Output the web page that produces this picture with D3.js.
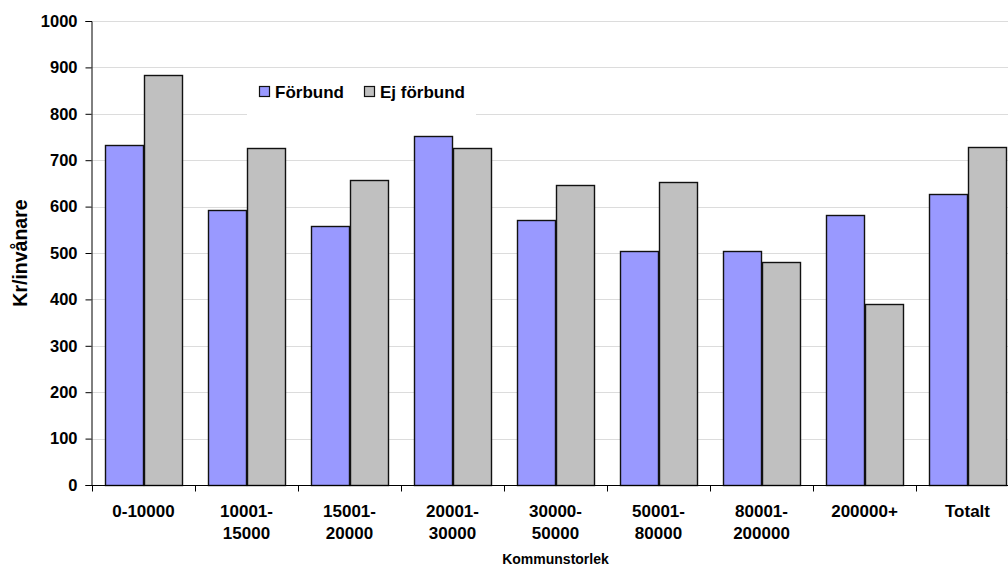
<!DOCTYPE html>
<html><head><meta charset="utf-8">
<script src="https://cdn.jsdelivr.net/npm/d3@7"></script>
<style>body{margin:0;background:#fff;}svg{display:block;font-family:"Liberation Sans",Arial,sans-serif;}</style>
</head><body>
<svg id="c" width="1008" height="568"></svg>
<script>
const categories = [["0-10000"],["10001-","15000"],["15001-","20000"],["20001-","30000"],["30000-","50000"],["50001-","80000"],["80001-","200000"],["200000+"],["Totalt"]];
const seriesNames = ["Förbund","Ej förbund"];
const forbund = [733, 593, 558, 752, 571, 504, 505, 581, 627];
const ejForbund = [883, 726, 658, 726, 646, 652, 481, 390, 728];
const yTicks = [0,100,200,300,400,500,600,700,800,900,1000];
const colors = ["#9999ff","#c0c0c0"];

(function(){
const svg = d3.select("#c");
const axisX = 91, bandStart = 92, bandW = 103, mTop = 21, mBottom = 485;
const mRight = bandStart + categories.length*bandW;
const keys = categories.map((c,i)=>i);
const x = d3.scaleBand().domain(keys).range([bandStart,mRight]).paddingInner(0).paddingOuter(0);
const y = d3.scaleLinear().domain([0,1000]).range([mBottom,mTop]);
const inner = d3.scaleBand().domain([0,1]).range([0,x.bandwidth()]).paddingInner(0).paddingOuter(0.355);

// gridlines
svg.append("g").selectAll("line").data(yTicks.filter(d=>d>0)).join("line")
  .attr("x1",axisX).attr("x2",1008).attr("y1",d=>Math.round(y(d))+0.5).attr("y2",d=>Math.round(y(d))+0.5)
  .attr("stroke","#dcdcdc").attr("stroke-width",1);

// legend background
const lg = svg.append("g");
lg.append("rect").attr("x",247).attr("y",76).attr("width",229).attr("height",40).attr("fill","#fff");

// bars
const series = [forbund, ejForbund];
series.forEach((vals,si)=>{
  svg.append("g").selectAll("rect").data(vals).join("rect")
    .attr("x",(d,i)=>Math.round(x(i)+inner(si))+0.5)
    .attr("y",d=>Math.round(y(d))+0.5)
    .attr("width",Math.round(inner.bandwidth()))
    .attr("height",d=>Math.round(y(0))-Math.round(y(d)))
    .attr("fill",colors[si]).attr("stroke","#111").attr("stroke-width",1.4);
});

// y axis
const ya = svg.append("g").attr("transform",`translate(${axisX+0.5},0)`)
  .call(d3.axisLeft(y).tickValues(yTicks).tickSize(6).tickPadding(8).tickFormat(d3.format("d")));
ya.select(".domain").attr("stroke","#000");
ya.selectAll("text").attr("font-size",16.5).attr("font-weight","bold").attr("fill","#000").attr("font-family","Liberation Sans, Arial, sans-serif");
ya.selectAll(".tick line").attr("stroke","#000");

// x axis
const xa = svg.append("g").attr("transform",`translate(0,${mBottom+0.5})`)
  .call(d3.axisBottom(x).tickSize(6).tickFormat(""));
xa.selectAll(".tick").remove();
xa.select(".domain").attr("stroke","#000").attr("d",`M${axisX},0H${mRight}`);
const tickPos = d3.range(categories.length+1).map(i=>bandStart + i*x.bandwidth());
xa.selectAll("line.tk").data(tickPos).join("line").attr("class","tk")
  .attr("x1",d=>Math.round(d)+0.5).attr("x2",d=>Math.round(d)+0.5).attr("y1",0).attr("y2",6).attr("stroke","#000");
const lab = svg.append("g").selectAll("text").data(categories).join("text")
  .attr("x",(d,i)=>x(i)+x.bandwidth()/2).attr("y",517)
  .attr("text-anchor","middle").attr("font-size",17).attr("font-weight","bold").attr("fill","#000");
lab.selectAll("tspan").data(d=>d).join("tspan")
  .attr("x",function(){return d3.select(this.parentNode).attr("x");})
  .attr("dy",(d,i)=>i===0?0:22).text(d=>d);

// axis titles
svg.append("text").attr("x",(bandStart+mRight)/2).attr("y",564).attr("text-anchor","middle")
  .attr("font-size",14).attr("font-weight","bold").text("Kommunstorlek");
svg.append("text").attr("transform","translate(27,253) rotate(-90)").attr("text-anchor","middle")
  .attr("font-size",19.5).attr("font-weight","bold").text("Kr/invånare");

// legend
const items = [{n:seriesNames[0],c:colors[0],x:259},{n:seriesNames[1],c:colors[1],x:364}];
items.forEach(it=>{
  lg.append("rect").attr("x",it.x+0.5).attr("y",86.5).attr("width",10).attr("height",10)
    .attr("fill",it.c).attr("stroke","#111").attr("stroke-width",1.2);
  lg.append("text").attr("x",it.x+16).attr("y",98).attr("font-size",17).attr("font-weight","bold").text(it.n);
});
})();
</script>
</body></html>
